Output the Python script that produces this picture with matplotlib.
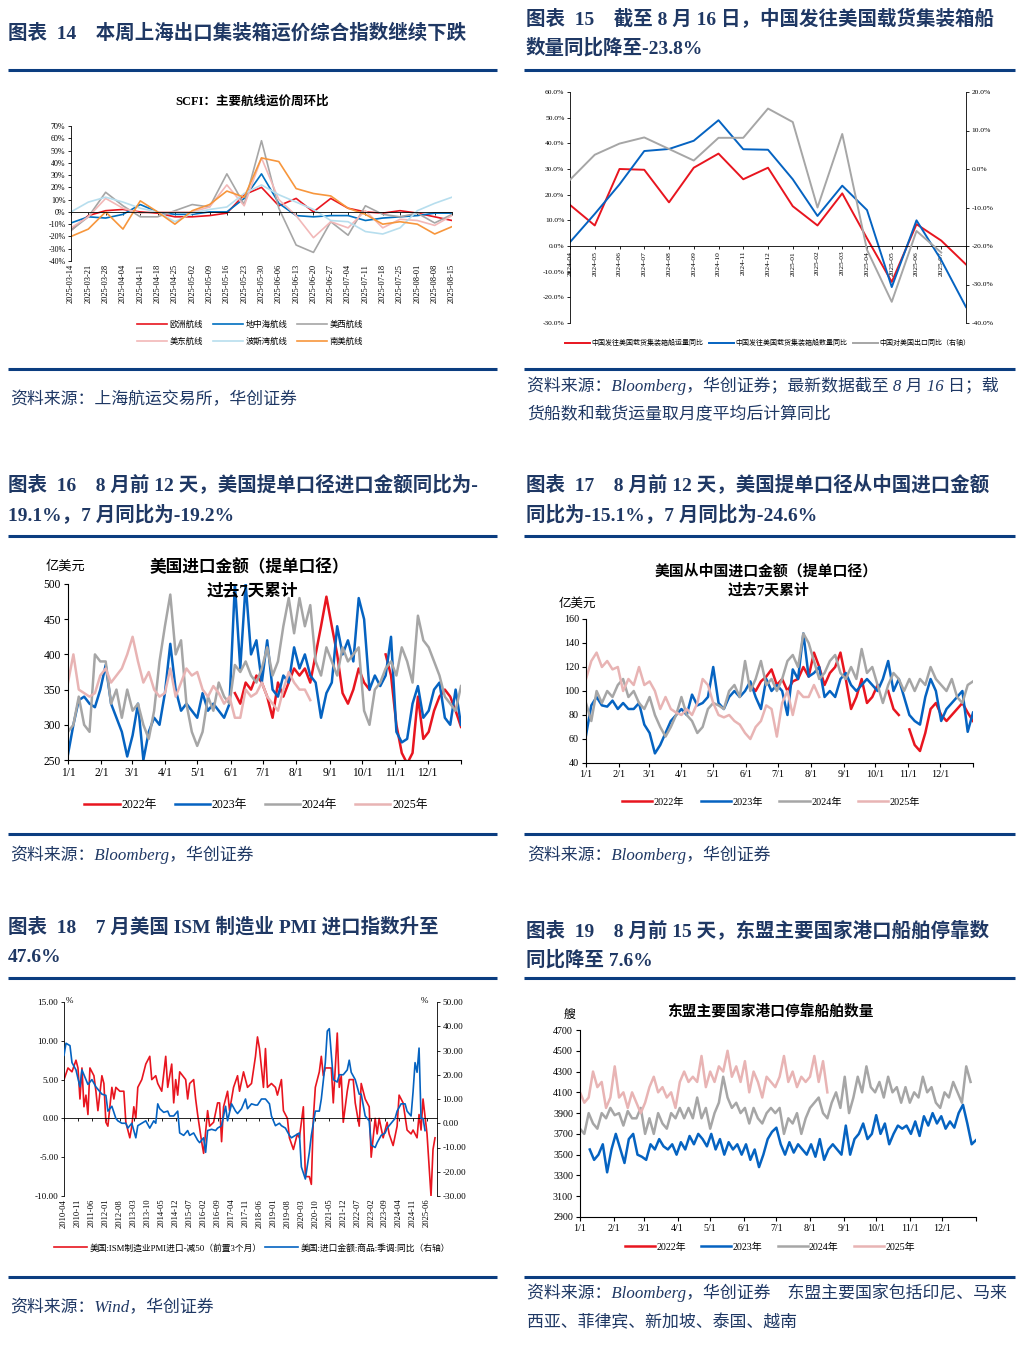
import numpy as np
import pandas as pd
import matplotlib
matplotlib.use('Agg')
import matplotlib.pyplot as plt
from matplotlib.lines import Line2D

W, H = 1034, 1353
CJK = 'Noto Sans CJK SC'
SERIF = ['Liberation Serif', 'Noto Sans CJK SC']
plt.rcParams['font.family'] = SERIF
plt.rcParams['axes.unicode_minus'] = False
NAVY = '#0B3D80'
TITLE_C = '#1F3864'
SRC_C = '#1F3864'

RED = '#E8151F'
BLUE = '#0563C1'
GRAY = '#A6A6A6'
PINK = '#E8B4B4'

# ---------------- data ----------------
# Fig 14: SCFI weekly change (%)
SCFI_DATES = ['2025-03-14', '2025-03-21', '2025-03-28', '2025-04-04', '2025-04-11', '2025-04-18',
              '2025-04-25', '2025-05-02', '2025-05-09', '2025-05-16', '2025-05-23', '2025-05-30',
              '2025-06-06', '2025-06-13', '2025-06-20', '2025-06-27', '2025-07-04', '2025-07-11',
              '2025-07-18', '2025-07-25', '2025-08-01', '2025-08-08', '2025-08-15']
SCFI_EUROPE = [-15, -3, 1, 2, 0, -1, -4, -4, -3, -1, 14, 20, 5, 11, 0, 11, 3, 0, -1, 1, -1, -4, -7]
SCFI_MED = [-9, -4, -5, -2, 6, 0, -2, -2, 0, 0, 11, 31, 7, -3, -4, -3, -3, -7, -5, -4, -3, -1, -1]
SCFI_USWC = [-15, -4, 16, 5, -4, -4, 1, 6, 4, 31, 6, 58, 3, -27, -33, -8, -19, 5, -2, -4, -1, -9, -2]
SCFI_USEC = [-13, -4, 11, 3, -1, 0, 0, 0, 4, 22, 5, 44, 10, -3, -21, -8, -13, 1, -13, -6, -7, -11, -3]
SCFI_PG = [0, 8, 12, 8, 3, 0, -8, -1, 2, 4, 15, 22, 14, 8, 2, -7, -8, -16, -18, -13, 1, 7, 12]
SCFI_SA = [-20, -14, 0, -14, 9, 0, -10, 1, 6, 17, 12, 44, 41, 19, 15, 13, 3, -2, -10, -8, -10, -18, -12]

# Fig 15: monthly YoY (%)
P15_MONTHS = ['2024-04', '2024-05', '2024-06', '2024-07', '2024-08', '2024-09', '2024-10', '2024-11',
              '2024-12', '2025-01', '2025-02', '2025-03', '2025-04', '2025-05', '2025-06', '2025-07', '']
P15_VOLUME = [16, 8, 30, 29.7, 17, 30.5, 36, 26, 30.5, 15.5, 8, 20.5, 3, -14, 8.5, 2.1, -7.2]
P15_SHIPS = [1.5, 12.5, 24, 37, 37.8, 41, 49, 37.7, 37.5, 26, 11.7, 23.5, 14, -16, 10, -5.5, -23.8]
P15_EXPORT = [-2.8, 3.7, 6.6, 8.2, 5.2, 2.2, 8.1, 8.1, 15.7, 12.2, -10, 9.1, -21, -34.5, -16.1, -21.7]

# Fig 16: US imports (B/L), 7-day sum, 100m USD; (start m-d, step days, values)
P16_STEP = 5
P16_2022_START = '06-05'
P16_2022 = [345, 330, 360, 350, 370, 360, 340, 310, 360, 340, 360, 380, 370, 380, 360, 400, 440, 482, 440,
            400, 345, 330, 350, 380, 360, 350, np.nan, np.nan, 400, 370, 300, 260, 245, 260, 340, 280, 290,
            320, 340, 350, 340, 320, 297]
P16_2023_START = '01-01'
P16_2023 = [258, 300, 335, 340, 330, 325, 350, 385, 330, 310, 290, 255, 285, 330, 250, 290, 310, 300, 345,
            415, 350, 320, 330, 320, 310, 345, 320, 330, 320, 310, 330, 500, 380, 500, 400, 420, 360, 420,
            350, 340, 370, 360, 410, 380, 400, 370, 360, 310, 345, 360, 440, 400, 420, 390, 480, 450, 350,
            370, 355, 370, 425, 290, 275, 280, 330, 355, 310, 320, 350, 360, 310, 300, 350, 300]
P16_2024_START = '01-01'
P16_2024 = [290, 300, 340, 300, 290, 400, 390, 390, 330, 350, 310, 350, 320, 330, 300, 280, 320, 390, 440,
            485, 400, 420, 330, 290, 270, 290, 340, 320, 360, 340, 330, 385, 375, 390, 370, 360, 380, 410,
            370, 390, 440, 480, 430, 480, 440, 470, 390, 370, 410, 390, 370, 410, 390, 400, 410, 320, 300,
            350, 360, 380, 390, 370, 410, 390, 360, 455, 420, 410, 390, 370, 340, 330, 320, 355]
P16_2025_START = '01-01'
P16_2025 = [360, 400, 350, 345, 340, 345, 370, 380, 360, 370, 380, 400, 425, 390, 360, 375, 350, 340, 345,
            380, 340, 360, 380, 370, 375, 350, 340, 355, 345, 330, 340, 310, 310, 350, 340, 345, 360, 340,
            330, 320, 350, 375, 360, 350, 350, 335]

# Fig 17: US imports from China (B/L), 7-day sum, 100m USD
P17_STEP = 5
P17_2022_START = '06-05'
P17_2022 = [105, 100, 108, 112, 118, 105, 110, 100, 108, 110, 120, 112, 132, 120, 105, 115, 120, 132, 110,
            85, 95, 110, 90, 95, 105, np.nan, 100, 85, 80, np.nan, 68, 55, 50, 65, 85, 90, 80, 75, 80, 85,
            90, 82, 75]
P17_2023_START = '01-01'
P17_2023 = [63, 88, 95, 88, 87, 92, 85, 90, 85, 85, 90, 72, 65, 48, 55, 65, 75, 80, 85, 80, 97, 88, 90, 95,
            120, 90, 85, 95, 100, 95, 100, 108, 95, 85, 110, 100, 105, 100, 80, 118, 110, 148, 112, 115,
            120, 95, 100, 95, 110, 115, 105, 100, 105, 110, 105, 100, 110, 125, 100, 110, 95, 80, 75, 72,
            95, 110, 100, 75, 85, 90, 95, 100, 66, 82]
P17_2024_START = '01-01'
P17_2024 = [90, 75, 100, 90, 100, 95, 105, 110, 95, 100, 90, 85, 95, 80, 70, 62, 70, 80, 95, 80, 75, 65,
            70, 85, 90, 88, 85, 100, 105, 95, 125, 100, 110, 125, 105, 110, 100, 110, 125, 130, 120, 148,
            140, 125, 110, 115, 125, 130, 115, 110, 120, 110, 135, 115, 120, 105, 90, 105, 115, 110, 100,
            110, 100, 110, 105, 120, 110, 105, 100, 110, 95, 90, 105, 108]
P17_2025_START = '01-01'
P17_2025 = [110, 125, 132, 120, 125, 118, 120, 100, 110, 105, 120, 105, 108, 100, 85, 95, 85, 82, 80, 85,
            80, 90, 110, 105, 90, 80, 78, 80, 75, 72, 65, 60, 70, 75, 88, 85, 62, 90, 100, 80, 100, 95, 95,
            105, 95]

# Fig 18: (months since 2010-04, value)
ISM_START = '2010-04'
ISM_IMPORT_M50 = [(0, 5.0), (2, 6.5), (4, 6.0), (6, 7.5), (7, 6.5), (8, 2.5), (9, 6.5), (10, 1.5), (11, 3.0),
                  (12, 0.5), (13, 6.5), (15, 5.5), (16, 3.5), (17, 1.0), (19, 5.5), (20, 4.5), (21, -0.5),
                  (22, -1.0), (24, 4.0), (25, 2.5), (26, 4.0), (28, 3.5), (30, 3.5), (31, -0.5), (33, -2.5),
                  (34, -1.0), (35, 1.5), (36, 0.0), (37, 4.0), (39, 5.0), (41, 7.0), (43, 8.0), (44, 5.0),
                  (46, 5.5), (47, 4.5), (49, 3.5), (51, 8.0), (52, 4.0), (54, 7.0), (55, 2.0), (56, 5.0),
                  (57, 3.0), (58, 6.0), (61, 5.0), (62, 2.5), (63, 4.5), (65, 5.0), (66, 2.5), (67, 0.5),
                  (69, -3.0), (70, -4.5), (72, 1.0), (73, -1.0), (75, -0.5), (77, 2.0), (78, 2.0), (79, -3.0),
                  (80, 1.5), (82, 3.5), (83, 1.0), (85, 4.0), (87, 5.5), (88, 3.5), (90, 6.0), (92, 4.0),
                  (94, 4.5), (96, 8.0), (97, 10.5), (98, 9.0), (100, 4.0), (101, 9.0), (102, 4.0), (104, 4.5),
                  (106, 4.0), (107, 3.0), (109, 5.0), (110, 1.0), (112, 0.0), (113, -2.5), (115, -4.0),
                  (117, -2.0), (118, -2.5), (120, 1.5), (121, -7.5), (123, -7.5), (124, -8.5), (125, 0.0),
                  (126, 4.0), (128, 6.0), (129, 8.0), (130, 5.5), (131, 6.5), (133, 6.5), (134, 6.5),
                  (135, 2.0), (137, 11.0), (138, 4.0), (139, 5.5), (140, -0.5), (142, 3.5), (143, 5.0),
                  (145, 5.0), (146, 2.0), (148, -1.0), (149, 4.5), (151, 2.5), (153, 1.5), (154, -5.0),
                  (156, 0.0), (157, -2.0), (158, 0.0), (160, -2.5), (162, -0.5), (163, -2.0), (165, -3.5),
                  (167, -1.0), (168, 3.0), (170, 2.0), (172, -1.5), (174, -2.0), (175, -1.5), (177, -2.5),
                  (178, 0.5), (179, -1.5), (180, 2.5), (182, -2.0), (184, -10.0), (185, -4.0), (186, -2.5)]
US_IMPORT_YOY = [(0, 28), (1, 33), (3, 32), (4, 25), (5, 23.5), (6, 22), (8, 15), (9, 22), (11, 18), (12, 16),
                 (14, 18), (16, 15), (17, 14), (19, 12), (21, 11.5), (22, 5), (24, 7), (26, 2), (27, 1), (29, 0),
                 (31, 0), (32, -2), (34, 0), (36, -6), (37, -1), (39, 0), (41, 1), (43, -2), (45, 1), (46, 0),
                 (47, 8), (48, 6), (50, 4.5), (52, 5), (53, 3), (55, 3), (57, 5), (58, -4), (60, -5), (62, -3),
                 (63, -5), (65, -4), (67, -7), (68, -8), (70, -6), (71, -12), (72, -3), (74, -2.5), (76, -3),
                 (77, -2), (79, -1), (81, 7), (82, 1), (84, 8), (86, 5), (87, 4), (89, 6), (91, 10), (92, 6),
                 (94, 8), (96, 7.5), (97, 7.5), (99, 10), (101, 10), (103, 8), (104, 3), (106, -1), (108, 0),
                 (109, -1), (111, -2), (113, -5), (114, -6), (116, -5), (118, -4), (119, -18), (121, -23),
                 (123, -12), (124, -5), (126, 5), (128, 5), (129, 10), (131, 25), (132, 38), (133, 39),
                 (135, 18), (137, 17), (138, 20), (140, 20), (142, 22), (143, 26), (144, 21), (146, 18),
                 (148, 12), (149, 12), (151, 3), (153, 1), (154, -9), (156, -10), (157, -8), (159, -5),
                 (161, -4), (162, -2), (164, 0), (166, 2), (167, 5), (169, 8), (171, 8), (172, 5), (174, 3),
                 (175, 13), (176, 25), (177, 21), (178, 31), (179, 2), (180, 2), (181, -3)]

# Fig 19: ASEAN port calls (ships)
P19_STEP = 4
P19_2022_START = '01-01'
P19_2022 = []
P19_2023_START = '01-10'
P19_2023 = [3550, 3450, 3500, 3600, 3330, 3550, 3700, 3560, 3420, 3650, 3700, 3500, 3480, 3450, 3600, 3550,
            3650, 3580, 3550, 3600, 3500, 3620, 3550, 3680, 3600, 3700, 3650, 3580, 3700, 3550, 3650, 3500,
            3620, 3550, 3600, 3500, 3600, 3450, 3550, 3380, 3500, 3650, 3720, 3760, 3600, 3500, 3620, 3520,
            3600, 3550, 3500, 3600, 3480, 3650, 3450, 3550, 3600, 3550, 3500, 3780, 3500, 3650, 3700, 3800,
            3650, 3700, 3880, 3700, 3800, 3600, 3700, 3780, 3750, 3780, 3700, 3820, 3680, 3870, 3780, 3900,
            3800, 3870, 3750, 3820, 3760, 3900, 3980, 3800, 3600, 3640]
P19_2024_START = '01-01'
P19_2024 = [3750, 3700, 3900, 3800, 3750, 3900, 3850, 3950, 3880, 3900, 3780, 3920, 3850, 3850, 3950, 3700,
            3850, 3700, 3900, 3800, 3750, 3900, 3850, 3950, 3850, 3950, 3850, 4050, 3850, 3950, 3750, 3900,
            4000, 4250, 4050, 3950, 4000, 3900, 3950, 3800, 3950, 3850, 3800, 3900, 3950, 3900, 3950, 3700,
            3850, 3800, 3900, 3700, 3850, 3950, 4000, 4050, 3900, 3850, 4000, 4100, 3950, 4250, 3900, 4050,
            4250, 4100, 4350, 4150, 4100, 4200, 4050, 4250, 4100, 4150, 4000, 4150, 4000, 4100, 4050, 4250,
            4100, 4150, 4000, 3950, 4100, 4050, 4200, 4100, 4000, 4350, 4200]
P19_2025_START = '01-01'
P19_2025 = [4100, 4000, 4050, 4300, 4150, 4200, 3950, 4050, 4350, 4050, 4100, 3950, 4100, 4000, 3900, 4000,
            4150, 4250, 4100, 4150, 4050, 4100, 3950, 4200, 4300, 4200, 4250, 4200, 4450, 4150, 4300, 4200,
            4350, 4300, 4500, 4250, 4350, 4200, 4400, 4100, 4300, 4200, 4050, 4250, 4200, 4150, 4250, 4450,
            4200, 4300, 4150, 4250, 4200, 4250, 4450, 4200, 4400, 4100]

YEAR_LABELS = ['2022年', '2023年', '2024年', '2025年']
YEAR_COLORS = [RED, BLUE, GRAY, PINK]

# ---------------- helpers ----------------
fig = plt.figure(figsize=(W / 100, H / 100), dpi=100)


def add_ax(x0, y0, x1, y1):
    return fig.add_axes([x0 / W, 1 - y1 / H, (x1 - x0) / W, (y1 - y0) / H])


def ftext(x, y, s, **kw):
    fig.text(x / W, 1 - y / H, s, **kw)


def hline(x0, x1, y):
    fig.add_artist(Line2D([x0 / W, x1 / W], [1 - y / H, 1 - y / H], transform=fig.transFigure,
                          color=NAVY, lw=2.2, solid_capstyle='butt'))


def day_positions(start, step, n):
    d0 = (pd.Timestamp('2023-' + start) - pd.Timestamp('2023-01-01')).days
    return d0 + step * np.arange(n)


def legend_at(ax, handles, labels, cx, cy, **kw):
    lg = ax.legend(handles, labels, loc='center', bbox_to_anchor=(cx / W, 1 - cy / H),
                   bbox_transform=fig.transFigure, frameon=False, **kw)
    return lg


MONTH_STARTS = (pd.date_range('2023-01-01', periods=12, freq='MS').dayofyear - 1).tolist()
MONTH_LABELS = [f'{m}/1' for m in range(1, 13)]


def year_panel(ax, series, ylim, ystep, tick_fs, lw=1.8):
    handles = []
    for (start, step, vals), col in zip(series, YEAR_COLORS):
        x = day_positions(start, step, len(vals))
        ln, = ax.plot(x, vals, color=col, lw=lw)
        handles.append(ln)
    ax.set_xlim(0, 365)
    ax.set_ylim(*ylim)
    ax.set_yticks(np.arange(ylim[0], ylim[1] + 1, ystep))
    ax.set_xticks(MONTH_STARTS + [365])
    ax.set_xticklabels(MONTH_LABELS + [''])
    ax.tick_params(labelsize=tick_fs, length=3, width=0.8, direction='out', pad=2)
    for s in ['top', 'right']:
        ax.spines[s].set_visible(False)
    for s in ['left', 'bottom']:
        ax.spines[s].set_linewidth(0.8)
    return handles


# ---------------- frame: titles, rules, sources ----------------
TKW = dict(fontsize=14, fontweight='bold', color=TITLE_C, va='center', family=SERIF)
ftext(8, 33, '图表  14    本周上海出口集装箱运价综合指数继续下跌', **TKW)
ftext(526, 19, '图表  15    截至 8 月 16 日，中国发往美国载货集装箱船', **TKW)
ftext(526, 48, '数量同比降至-23.8%', **TKW)
ftext(8, 484, '图表  16    8 月前 12 天，美国提单口径进口金额同比为-', **TKW)
ftext(8, 514, '19.1%，7 月同比为-19.2%', **TKW)
ftext(526, 484, '图表  17    8 月前 12 天，美国提单口径从中国进口金额', **TKW)
ftext(526, 514, '同比为-15.1%，7 月同比为-24.6%', **TKW)
ftext(8, 927, '图表  18    7 月美国 ISM 制造业 PMI 进口指数升至', **TKW)
ftext(8, 957, '47.6%', **TKW)
ftext(526, 930, '图表  19    8 月前 15 天，东盟主要国家港口船舶停靠数', **TKW)
ftext(526, 960, '同比降至 7.6%', **TKW)

for y in [70, 369]:
    hline(8, 497, y)
    hline(524, 1015, y)
for y in [536, 834]:
    hline(8, 497, y)
    hline(524, 1015, y)
for y in [978, 1277]:
    hline(8, 497, y)
    hline(524, 1015, y)

SKW = dict(fontsize=12.2, style='italic', color=SRC_C, va='center', family=SERIF)
ftext(10, 400, '资料来源：上海航运交易所，华创证券', **SKW)
ftext(527, 386, '资料来源：Bloomberg，华创证券；最新数据截至 8 月 16 日；载', **SKW)
ftext(527, 415, '货船数和载货运量取月度平均后计算同比', **SKW)
ftext(10, 855, '资料来源：Bloomberg，华创证券', **SKW)
ftext(527, 855, '资料来源：Bloomberg，华创证券', **SKW)
ftext(10, 1308, '资料来源：Wind，华创证券', **SKW)
ftext(527, 1293, '资料来源：Bloomberg，华创证券    东盟主要国家包括印尼、马来', **SKW)
ftext(527, 1323, '西亚、菲律宾、新加坡、泰国、越南', **SKW)

# ---------------- Fig 14 ----------------
ax = add_ax(71, 126, 452, 261)
x = np.arange(len(SCFI_DATES))
h14 = {}
for name, vals, col in [('欧洲航线', SCFI_EUROPE, RED), ('地中海航线', SCFI_MED, '#0070C0'),
                        ('美西航线', SCFI_USWC, GRAY), ('美东航线', SCFI_USEC, '#F2B8B8'),
                        ('波斯湾航线', SCFI_PG, '#B7DEEE'), ('南美航线', SCFI_SA, '#F7963C')]:
    h14[name], = ax.plot(x, vals, color=col, lw=1.2)
ax.set_xlim(0, len(x) - 1)
ax.set_ylim(-40, 70)
for s in ['top', 'right']:
    ax.spines[s].set_visible(False)
ax.spines['bottom'].set_position(('data', 0))
ax.spines['left'].set_linewidth(0.6)
ax.spines['bottom'].set_linewidth(0.6)
yt = np.arange(-40, 71, 10)
ax.set_yticks(yt)
ax.set_yticklabels([f'{v}%' for v in yt])
ax.tick_params(axis='y', labelsize=5.8, length=2.5, width=0.6, pad=1.5)
ax.set_xticks(x)
ax.tick_params(axis='x', labelbottom=False, length=2.5, width=0.6)
sec = ax.secondary_xaxis('bottom')
sec.set_xticks(x)
sec.set_xticklabels(SCFI_DATES, rotation=90, fontsize=6)
sec.tick_params(length=0, pad=2)
sec.spines['bottom'].set_visible(False)
ftext(252, 102, 'SCFI：主要航线运价周环比', fontsize=9, fontweight='bold', ha='center', va='center',
      family=SERIF)
order = ['欧洲航线', '美东航线', '地中海航线', '波斯湾航线', '美西航线', '南美航线']
legend_at(ax, [h14[k] for k in order], order, 250, 333, ncol=3, handlelength=3.6,
          handletextpad=0.3, columnspacing=1.2, labelspacing=1.0, prop={'family': CJK, 'size': 6})

# ---------------- Fig 15 ----------------
ax = add_ax(570, 92, 966, 323)
x = np.arange(len(P15_MONTHS))
l1, = ax.plot(x, P15_VOLUME, color=RED, lw=1.4)
l2, = ax.plot(x, P15_SHIPS, color=BLUE, lw=1.4)
ax.set_xlim(0, len(x) - 1)
ax.set_ylim(-30, 60)
ax.spines['top'].set_visible(False)
ax.spines['right'].set_visible(False)
ax.spines['bottom'].set_position(('data', 0))
for s in ['left', 'bottom']:
    ax.spines[s].set_linewidth(0.6)
yt = np.arange(-30, 61, 10)
ax.set_yticks(yt)
ax.set_yticklabels([f'{v:.1f}%' for v in yt])
ax.tick_params(axis='y', labelsize=5.4, length=2.5, width=0.6, pad=1.5)
ax.set_xticks(x)
ax.set_xticklabels(P15_MONTHS, rotation=90, fontsize=5.4)
ax.tick_params(axis='x', length=2.5, width=0.6, pad=1)
ax2 = ax.twinx()
l3, = ax2.plot(x[:len(P15_EXPORT)], P15_EXPORT, color=GRAY, lw=1.4)
ax2.set_ylim(-40, 20)
yt2 = np.arange(-40, 21, 10)
ax2.set_yticks(yt2)
ax2.set_yticklabels([f'{v:.1f}%' for v in yt2])
ax2.tick_params(axis='y', labelsize=5.4, length=2.5, width=0.6, pad=1.5)
for s in ['top', 'bottom', 'left']:
    ax2.spines[s].set_visible(False)
ax2.spines['right'].set_linewidth(0.6)
legend_at(ax2, [l1, l2, l3], ['中国发往美国载货集装箱船运量同比', '中国发往美国载货集装箱船数量同比',
                              '中国对美国出口同比（右轴）'], 768, 343, ncol=3, handlelength=3.5,
          handletextpad=0.3, columnspacing=0.8, prop={'family': CJK, 'size': 5})

# ---------------- Fig 16 ----------------
ax = add_ax(68, 584, 461, 760)
hs = year_panel(ax, [(P16_2022_START, P16_STEP, P16_2022), (P16_2023_START, P16_STEP, P16_2023),
                     (P16_2024_START, P16_STEP, P16_2024), (P16_2025_START, P16_STEP, P16_2025)],
                (250, 500), 50, 8.3)
ftext(249, 568, '美国进口金额（提单口径）', fontsize=12, fontweight='bold', ha='center', va='center', family=SERIF)
ftext(252, 591, '过去7天累计', fontsize=12, fontweight='bold', ha='center', va='center', family=SERIF)
ftext(65, 566, '亿美元', fontsize=9.5, ha='center', va='center', family=CJK)
legend_at(ax, hs, YEAR_LABELS, 256, 805, ncol=4, handlelength=3.0, handletextpad=0.15,
          columnspacing=1.5, prop={'family': SERIF, 'size': 8.5})

# ---------------- Fig 17 ----------------
ax = add_ax(586, 619, 973, 763)
hs = year_panel(ax, [(P17_2022_START, P17_STEP, P17_2022), (P17_2023_START, P17_STEP, P17_2023),
                     (P17_2024_START, P17_STEP, P17_2024), (P17_2025_START, P17_STEP, P17_2025)],
                (40, 160), 20, 7.3)
ftext(766, 571, '美国从中国进口金额（提单口径）', fontsize=10.7, fontweight='bold', ha='center', va='center',
      family=SERIF)
ftext(769, 590, '过去7天累计', fontsize=10.7, fontweight='bold', ha='center', va='center', family=SERIF)
ftext(577, 603, '亿美元', fontsize=9, ha='center', va='center', family=CJK)
legend_at(ax, hs, YEAR_LABELS, 771, 802, ncol=4, handlelength=3.0, handletextpad=0.15,
          columnspacing=1.6, prop={'family': SERIF, 'size': 7.3})

# ---------------- Fig 18 ----------------
ax = add_ax(64, 1002, 437, 1196)
rm, rv = zip(*ISM_IMPORT_M50)
bm, bv = zip(*US_IMPORT_YOY)
r1, = ax.plot(rm, rv, color=RED, lw=1.2)
ax.set_xlim(0, 187)
ax.set_ylim(-10, 15)
for s in ['top', 'right']:
    ax.spines[s].set_visible(False)
ax.spines['bottom'].set_position(('data', 0))
for s in ['left', 'bottom']:
    ax.spines[s].set_linewidth(0.6)
yt = np.arange(-10, 16, 5)
ax.set_yticks(yt)
ax.set_yticklabels([f'{v:.2f}' for v in yt])
ax.tick_params(axis='y', labelsize=6.6, length=2.5, width=0.6, pad=1.5)
xt = np.arange(0, 183, 7)
xl = [(pd.Period(ISM_START, 'M') + int(k)).strftime('%Y-%m') for k in xt]
ax.set_xticks(xt)
ax.tick_params(axis='x', labelbottom=False, length=2.5, width=0.6)
sec = ax.secondary_xaxis('bottom')
sec.set_xticks(xt)
sec.set_xticklabels(xl, rotation=90, fontsize=6.1)
sec.tick_params(length=0, pad=2)
sec.spines['bottom'].set_visible(False)
ax2 = ax.twinx()
b1, = ax2.plot(bm, bv, color=BLUE, lw=1.2)
ax2.set_ylim(-30, 50)
yt2 = np.arange(-30, 51, 10)
ax2.set_yticks(yt2)
ax2.set_yticklabels([f'{v:.2f}' for v in yt2])
ax2.tick_params(axis='y', labelsize=6.6, length=2.5, width=0.6, pad=1.5)
for s in ['top', 'bottom', 'left']:
    ax2.spines[s].set_visible(False)
ax2.spines['right'].set_linewidth(0.6)
ftext(66, 1001, '%', fontsize=6.5, va='center', family=SERIF)
ftext(421, 1001, '%', fontsize=6.5, va='center', family=SERIF)
legend_at(ax2, [r1, b1], ['美国:ISM制造业PMI进口-减50（前置3个月）', '美国:进口金额:商品:季调:同比（右轴）'],
          252, 1248, ncol=2, handlelength=3.8, handletextpad=0.3, columnspacing=0.4,
          prop={'family': SERIF, 'size': 6.3})

# ---------------- Fig 19 ----------------
ax = add_ax(580, 1030, 976, 1217)
hs = year_panel(ax, [(P19_2022_START, P19_STEP, P19_2022), (P19_2023_START, P19_STEP, P19_2023),
                     (P19_2024_START, P19_STEP, P19_2024), (P19_2025_START, P19_STEP, P19_2025)],
                (2900, 4700), 200, 7.2)
ftext(770, 1011, '东盟主要国家港口停靠船舶数量', fontsize=10.6, fontweight='bold', ha='center', va='center',
      family=SERIF)
ftext(569, 1014, '艘', fontsize=8.5, ha='center', va='center', family=CJK)
legend_at(ax, hs, YEAR_LABELS, 770, 1247, ncol=4, handlelength=3.0, handletextpad=0.15,
          columnspacing=1.5, prop={'family': SERIF, 'size': 7.2})

fig.savefig('out.png', dpi=100)
